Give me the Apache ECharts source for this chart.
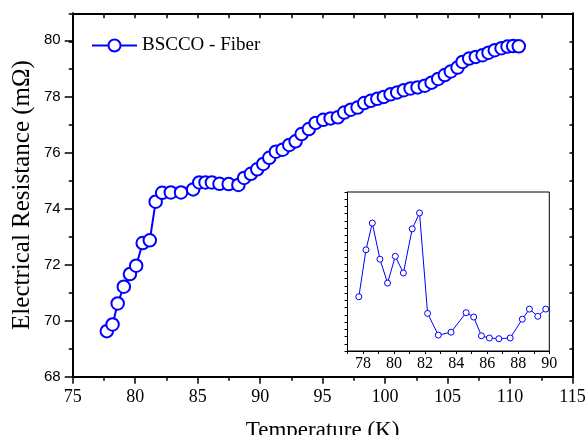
<!DOCTYPE html>
<html>
<head>
<meta charset="utf-8">
<script src="https://cdn.jsdelivr.net/npm/echarts@6/dist/echarts.min.js"></script>
<style>
  html, body { margin: 0; padding: 0; background: #fff; }
  #chart { width: 587px; height: 435px; }
</style>
</head>
<body>
<div id="chart"></div>
<script>
// Temperature (K) of each measurement
var temperature = [
  77.73, 78.19, 78.60, 79.09, 79.58, 80.08, 80.60, 81.17, 81.64, 82.16,
  82.85, 83.67, 84.64, 85.13, 85.63, 86.14, 86.75, 87.48, 88.26, 88.72,
  89.26, 89.77, 90.25, 90.73, 91.26, 91.80, 92.33, 92.84, 93.32, 93.90,
  94.44, 95.05, 95.64, 96.22, 96.73, 97.26, 97.80, 98.33, 98.86, 99.38,
  99.90, 100.44, 100.97, 101.50, 102.04, 102.60, 103.18, 103.72, 104.25, 104.78,
  105.26, 105.80, 106.20, 106.73, 107.26, 107.80, 108.28, 108.78, 109.32, 109.80,
  110.25, 110.70
];
// Electrical resistance (mΩ) of the BSCCO fiber
var resistance = [
  69.63, 69.87, 70.62, 71.22, 71.67, 71.97, 72.78, 72.88, 74.26, 74.58,
  74.59, 74.59, 74.70, 74.95, 74.95, 74.95, 74.90, 74.89, 74.86, 75.11,
  75.26, 75.42, 75.61, 75.83, 76.05, 76.12, 76.29, 76.42, 76.68, 76.86,
  77.08, 77.19, 77.24, 77.28, 77.45, 77.55, 77.63, 77.79, 77.87, 77.94,
  78.01, 78.10, 78.17, 78.25, 78.31, 78.35, 78.41, 78.52, 78.65, 78.79,
  78.92, 79.06, 79.26, 79.38, 79.44, 79.50, 79.59, 79.68, 79.75, 79.81,
  79.83, 79.82
];
// Inset: detail of the low-temperature points (unlabelled vertical scale)
var insetTemperature = temperature.slice(0, 22);
var insetValues = [
  7.5, 14.0, 17.7, 12.7, 9.4, 13.1, 10.8, 16.9, 19.1, 5.2,
  2.2, 2.6, 5.3, 4.7, 2.1, 1.8, 1.7, 1.8, 4.4, 5.8,
  4.8, 5.8
];
var seriesName = 'BSCCO - Fiber';
var xTitle = 'Temperature (K)';
var yTitle = 'Electrical Resistance (mΩ)';

var serif = '"Liberation Serif", "Times New Roman", serif';
var sans = '"Liberation Sans", Arial, sans-serif';
var blue = '#0000ff';

var mainData = temperature.map(function (t, i) { return [t, resistance[i]]; });
var insetData = insetTemperature.map(function (t, i) { return [t, insetValues[i]]; });

var mainGrid = { left: 72.7, right: 14.5, top: 13.3, bottom: 58.3 };

var chart = echarts.init(document.getElementById('chart'), null, { renderer: 'canvas' });
chart.setOption({
  animation: false,
  backgroundColor: '#fff',
  legend: {
    data: [seriesName],
    left: 91,
    top: 36,
    padding: 0,
    itemWidth: 45,
    itemHeight: 15,
    itemGap: 5,
    textStyle: { fontFamily: serif, fontSize: 19, color: '#000' }
  },
  grid: [
    { left: mainGrid.left, right: mainGrid.right, top: mainGrid.top, bottom: mainGrid.bottom,
      outerBoundsMode: 'none', containLabel: false },
    // carries the labelled major ticks of the resistance axis (68 … 80)
    { left: mainGrid.left, right: mainGrid.right, top: 40.3, bottom: mainGrid.bottom,
      outerBoundsMode: 'none', containLabel: false },
    // inset panel
    { left: 347.5, right: 37.7, top: 192, bottom: 84, show: true,
      outerBoundsMode: 'none', containLabel: false,
      backgroundColor: '#fff', borderColor: '#000', borderWidth: 1, z: 5 }
  ],
  xAxis: [
    {
      gridIndex: 0, type: 'value', position: 'bottom',
      min: 75, max: 115, interval: 5,
      name: xTitle, nameLocation: 'middle', nameGap: 43,
      nameTextStyle: { fontFamily: serif, fontSize: 23, color: '#000' },
      axisLine: { lineStyle: { color: '#000', width: 2 } },
      axisTick: { inside: false, length: 7, lineStyle: { color: '#000', width: 1.5 } },
      minorTick: { show: true, splitNumber: 2, length: 4, lineStyle: { color: '#000', width: 1.5 } },
      axisLabel: { fontFamily: serif, fontSize: 18, color: '#000', margin: 12 },
      splitLine: { show: false }
    },
    {
      gridIndex: 0, type: 'value', position: 'top',
      min: 75, max: 115, interval: 2.5,
      axisLine: { lineStyle: { color: '#000', width: 2 } },
      axisTick: { inside: true, length: 5, lineStyle: { color: '#000', width: 1.5 } },
      axisLabel: { show: false },
      splitLine: { show: false }
    },
    {
      gridIndex: 1, type: 'value', min: 0, max: 1, show: false
    },
    {
      gridIndex: 2, type: 'value', min: 77, max: 90, interval: 1,
      axisLine: { lineStyle: { color: '#000', width: 1 } },
      axisTick: { inside: false, length: 3, lineStyle: { color: '#000', width: 1 } },
      axisLabel: {
        fontFamily: serif, fontSize: 16, color: '#000', margin: 5,
        formatter: function (v) { return v % 2 === 0 ? String(v) : ''; }
      },
      splitLine: { show: false }
    }
  ],
  yAxis: [
    {
      gridIndex: 0, type: 'value', position: 'left',
      min: 68, max: 81, interval: 1,
      name: yTitle, nameLocation: 'middle', nameGap: 38, nameRotate: 90,
      nameTextStyle: { fontFamily: serif, fontSize: 25, color: '#000' },
      axisLine: { lineStyle: { color: '#000', width: 2 } },
      axisTick: { inside: false, length: 4, lineStyle: { color: '#000', width: 1.5 } },
      axisLabel: { show: false },
      splitLine: { show: false }
    },
    {
      gridIndex: 0, type: 'value', position: 'right',
      min: 68, max: 81, interval: 1,
      axisLine: { lineStyle: { color: '#000', width: 2 } },
      axisTick: { inside: true, length: 3, lineStyle: { color: '#000', width: 1.5 } },
      axisLabel: { show: false },
      splitLine: { show: false }
    },
    {
      gridIndex: 1, type: 'value', position: 'left',
      min: 68, max: 80, interval: 2,
      axisLine: { show: false },
      axisTick: { inside: false, length: 8, lineStyle: { color: '#000', width: 1.5 } },
      axisLabel: { fontFamily: sans, fontSize: 15, color: '#000', margin: 12 },
      splitLine: { show: false }
    },
    {
      gridIndex: 2, type: 'value', min: 0, max: 22, interval: 1,
      axisLine: { lineStyle: { color: '#000', width: 1 } },
      axisTick: { inside: false, length: 3, lineStyle: { color: '#000', width: 1 } },
      axisLabel: { show: false },
      splitLine: { show: false }
    }
  ],
  series: [
    {
      name: seriesName, type: 'line',
      xAxisIndex: 0, yAxisIndex: 0,
      data: mainData,
      symbol: 'circle', symbolSize: 12.5, showAllSymbol: true,
      lineStyle: { color: blue, width: 2 },
      itemStyle: { color: '#fff', borderColor: blue, borderWidth: 2 },
      emphasis: { disabled: true }
    },
    {
      type: 'line',
      xAxisIndex: 3, yAxisIndex: 3,
      data: insetData,
      symbol: 'circle', symbolSize: 6, showAllSymbol: true,
      lineStyle: { color: blue, width: 1 },
      itemStyle: { color: '#fff', borderColor: blue, borderWidth: 1 },
      z: 6,
      emphasis: { disabled: true }
    }
  ]
});
</script>
</body>
</html>
